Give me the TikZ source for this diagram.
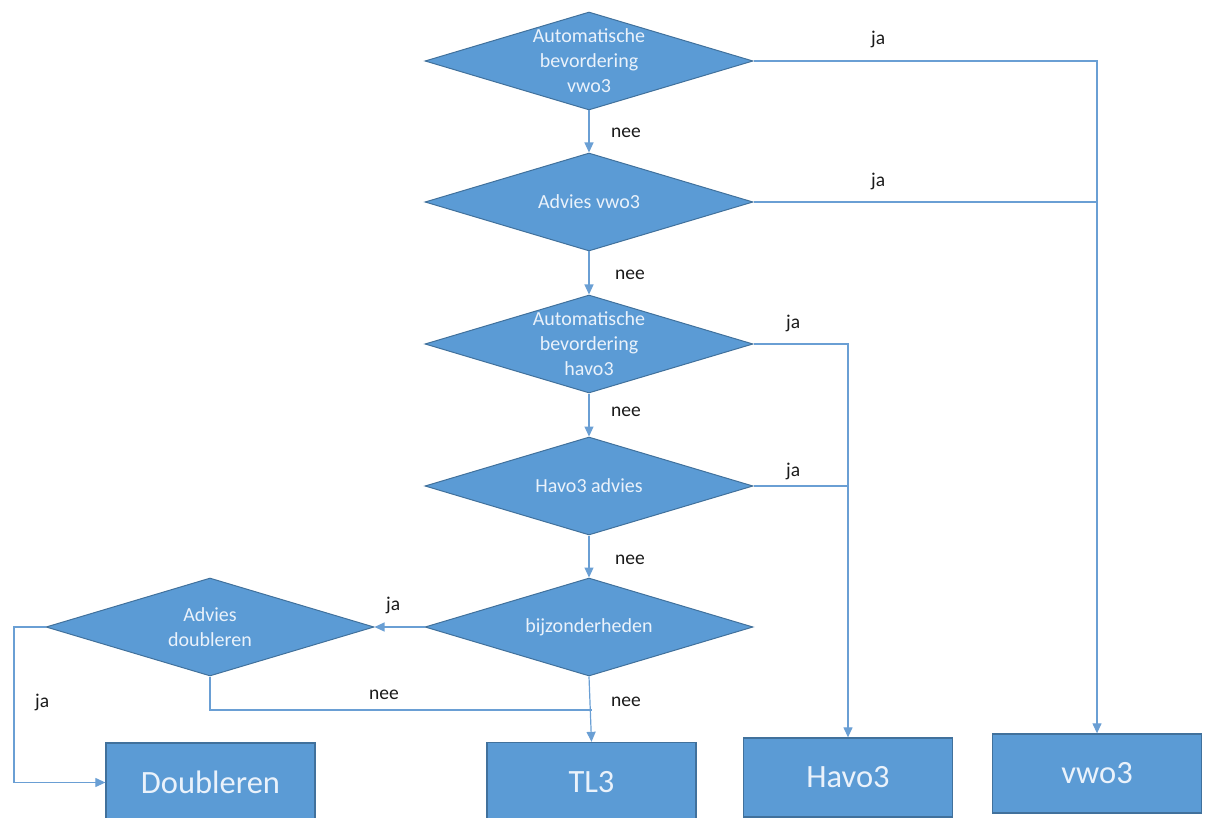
\documentclass[tikz,border=0pt]{standalone}
\usepackage{fontspec}
\setmainfont{Carlito}
\usetikzlibrary{shapes.geometric,arrows.meta,positioning}
\definecolor{boxfill}{HTML}{5B9BD5}
\definecolor{boxline}{HTML}{41719C}
\definecolor{conn}{HTML}{6A9FD4}
\definecolor{intext}{HTML}{EAF2FB}
\definecolor{lbl}{HTML}{1A1A1A}
\tikzset{
  decision/.style={diamond, draw=boxline, fill=boxfill, line width=1pt, inner sep=0pt,
    minimum width=328pt, minimum height=98pt},
  dtext/.style={text=intext, align=center, font=\fontsize{20}{25}\selectfont},
  endbox/.style={rectangle, draw=boxline, fill=boxfill, line width=1.3pt, inner sep=0pt,
    minimum width=209pt, minimum height=79pt, text=intext, font=\fontsize{32.5}{38}\selectfont},
  conline/.style={draw=conn, line width=1.2pt},
  arr/.style={conline, -{Triangle[length=10pt,width=9pt]}},
  lab/.style={text=lbl, anchor=west, inner sep=0pt, font=\fontsize{19.5}{23}\selectfont}
}
\begin{document}
\begin{tikzpicture}[x=1pt,y=-1pt]
\useasboundingbox (0,0) rectangle (1208,818);
% decisions
\node[decision] (d1) at (589,61) {};
\node[dtext] (t1) at (d1.center) {Automatische\\bevordering\\vwo3};
\node[decision] (d2) at (589,202) {};
\node[dtext] (t2) at (d2.center) {Advies vwo3};
\node[decision] (d3) at (589,344) {};
\node[dtext] (t3) at (d3.center) {Automatische\\bevordering\\havo3};
\node[decision] (d4) at (589,486) {};
\node[dtext] (t4) at (d4.center) {Havo3 advies};
\node[decision] (d5) at (589,627) {};
\node[dtext] (t5) at (d5.center) {bijzonderheden};
\node[decision] (d6) at (210,627) {};
\node[dtext] (t6) at (d6.center) {Advies\\doubleren};
% end boxes
\node[endbox] (doub) at (210.5,782.5) {Doubleren};
\node[endbox] (tl3) at (591.5,782) {TL3};
\node[endbox] (havo) at (848,777.5) {Havo3};
\node[endbox] (vwo) at (1097,773.5) {vwo3};
% coordinates
\coordinate (v2) at (d2.east -| vwo.north);
\coordinate (h4) at (d4.east -| havo.north);
\coordinate (ljl) at (14,627);
\coordinate (jn) at (591.5,710);
% connectors
\draw[arr] (d1.south) -- (d2.north);
\draw[arr] (d2.south) -- (d3.north);
\draw[arr] (d3.south) -- (d4.north);
\draw[arr] (d4.south) -- (d5.north);
\draw[arr] (d1.east) -| (vwo.north);
\draw[conline] (d2.east) -- (v2);
\draw[arr] (d3.east) -| (havo.north);
\draw[conline] (d4.east) -- (h4);
\draw[arr] (d5.west) -- (d6.east);
\draw[arr] (d6.west) -- (ljl) |- (doub.west);
\draw[conline] (d6.south) |- (jn);
\draw[arr] (d5.south) -- (tl3.north);
% labels
\node[lab] (n1) at (611,133) {nee};
\node[lab] (n2) at (615,275) {nee};
\node[lab] (n3) at (611,412) {nee};
\node[lab] (n4) at (615,560) {nee};
\node[lab] (n5) at (611,702) {nee};
\node[lab] (n6) at (369,695) {nee};
\node[lab] (j1) at (871,39) {ja};
\node[lab] (j2) at (871,181) {ja};
\node[lab] (j3) at (786,323) {ja};
\node[lab] (j4) at (786,471) {ja};
\node[lab] (j5) at (386,605) {ja};
\node[lab] (j6) at (35,702) {ja};
\end{tikzpicture}
\end{document}
